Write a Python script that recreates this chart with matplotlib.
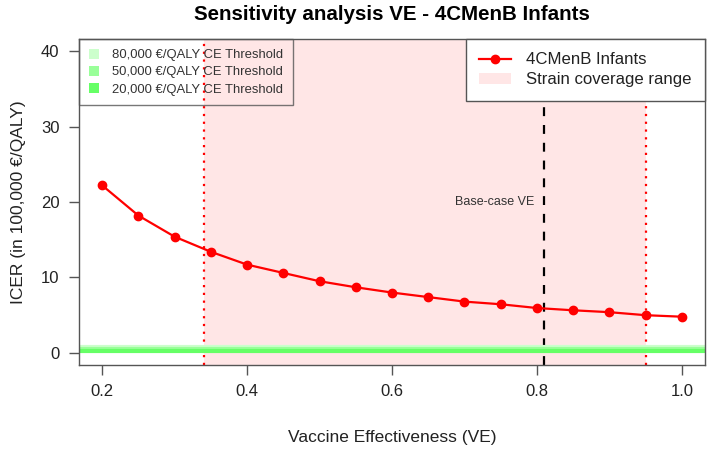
import matplotlib
matplotlib.use("Agg")
import matplotlib.pyplot as plt
from matplotlib.lines import Line2D
from matplotlib.patches import Patch
import numpy as np

plt.rcParams['font.family'] = ['Liberation Sans', 'DejaVu Sans']

ve = [0.20, 0.25, 0.30, 0.35, 0.40, 0.45, 0.50, 0.55, 0.60, 0.65, 0.70, 0.75, 0.80, 0.85, 0.90, 0.95, 1.00]
icer = [22.2, 18.2, 15.4, 13.4, 11.7, 10.6, 9.5, 8.7, 8.0, 7.4, 6.8, 6.45, 5.95, 5.65, 5.4, 5.0, 4.8]
thresholds = [0.8, 0.5, 0.2]
threshold_labels = ["80,000 €/QALY CE Threshold", "50,000 €/QALY CE Threshold", "20,000 €/QALY CE Threshold"]
threshold_alpha = [0.2, 0.4, 0.6]
coverage_range = [0.34, 0.95]
base_case = 0.81
xticks = [0.2, 0.4, 0.6, 0.8, 1.0]
xticklabels = ["0.2", "0.4", "0.6", "0.8", "1.0"]
yticks = [0, 10, 20, 30, 40]

W, H = 707, 449
fig = plt.figure(figsize=(W / 100, H / 100), dpi=100)
ax = fig.add_axes([79 / W, (H - 365) / H, (705 - 79) / W, (365 - 39) / H])

ax.set_xlim(0.2 - 0.032, 1.0 + 0.032)
ax.set_ylim(-1.6, 41.6)

ax.axvspan(coverage_range[0], coverage_range[1], color=(1, 0.9, 0.9), lw=0, zorder=0)
for x in coverage_range:
    ax.axvline(x, color='red', ls=(0, (1, 2.5)), lw=1.6, zorder=1)
ax.axvline(base_case, color='black', ls=(0, (4, 4)), lw=1.6, zorder=1)
ax.text(base_case - 0.014, 20, "Base-case VE", ha='right', va='center', fontsize=9, color='#333333')

for t, a in zip(thresholds, threshold_alpha):
    ax.axhline(t, color=(1 - a, 1, 1 - a), lw=3, zorder=2)

ax.plot(ve, icer, color='red', marker='o', ms=6, lw=1.6, zorder=3)

ax.set_xticks(xticks)
ax.set_xticklabels(xticklabels)
ax.set_yticks(yticks)
ax.tick_params(axis='both', direction='out', length=7, width=1, color='#555555', labelsize=12, pad=7, labelcolor='#222222')
for s in ax.spines.values():
    s.set_color('#555555')
    s.set_linewidth(1)

ax.set_xlabel("Vaccine Effectiveness (VE)", fontsize=12.5, labelpad=22, color='#222222')
ax.set_ylabel("ICER (in 100,000 €/QALY)", fontsize=12.5, labelpad=11, color='#222222')
ax.set_title("Sensitivity analysis VE - 4CMenB Infants", fontsize=14.8, fontweight='bold', pad=14)

handles_left = [Patch(facecolor=(1 - a, 1, 1 - a), edgecolor='none') for a in threshold_alpha]
leg1 = ax.legend(handles_left, threshold_labels, loc='upper left', borderaxespad=0, fontsize=9.4,
                 frameon=True, fancybox=False, edgecolor='#555555', facecolor='none',
                 handlelength=0.8, handleheight=0.8, handletextpad=1.0, borderpad=0.75,
                 labelspacing=0.35, labelcolor='#333333')
leg1.get_frame().set_linewidth(1)
leg1.set_zorder(5)
ax.add_artist(leg1)

handles_right = [Line2D([0], [0], color='red', marker='o', ms=6, lw=1.6),
                 Patch(facecolor=(1, 0.9, 0.9), edgecolor='none')]
leg2 = ax.legend(handles_right, ["4CMenB Infants", "Strain coverage range"], loc='upper right',
                 borderaxespad=0, fontsize=12.1, frameon=True, fancybox=False, edgecolor='#555555',
                 facecolor='white', framealpha=1, handlelength=1.9, handletextpad=0.9,
                 borderpad=0.8, labelspacing=0.3, labelcolor='#222222')
leg2.get_frame().set_linewidth(1)
leg2.set_zorder(5)

fig.savefig("out.png", dpi=100)
